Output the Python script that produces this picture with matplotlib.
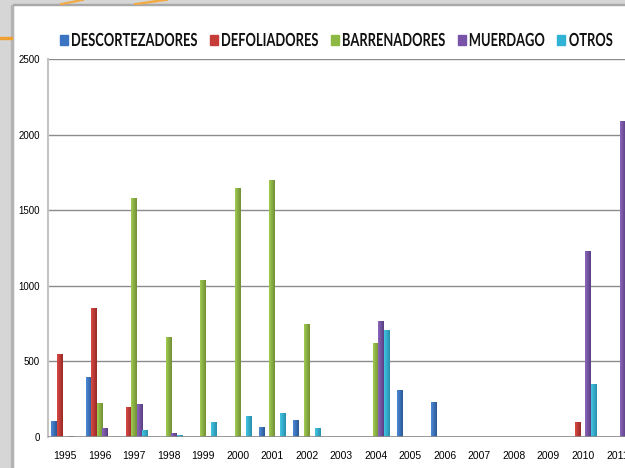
import numpy as np
import matplotlib.pyplot as plt
from matplotlib.patches import Rectangle, PathPatch, Polygon
from matplotlib.colors import LinearSegmentedColormap
from matplotlib.textpath import TextPath
from matplotlib.font_manager import FontProperties
from matplotlib.transforms import Affine2D

# datos
anios = ['1995', '1996', '1997', '1998', '1999', '2000', '2001', '2002', '2003',
         '2004', '2005', '2006', '2007', '2008', '2009', '2010', '2011']
descortezadores = [105, 400, 0, 0, 0, 0, 65, 110, 0, 0, 310, 230, 0, 0, 0, 0, 0]
defoliadores = [550, 850, 200, 0, 0, 0, 0, 0, 0, 0, 0, 0, 0, 0, 0, 100, 0]
barrenadores = [0, 225, 1580, 660, 1040, 1650, 1700, 750, 0, 620, 0, 0, 0, 0, 0, 0, 0]
muerdago = [5, 60, 220, 25, 5, 0, 0, 0, 0, 770, 0, 0, 0, 0, 0, 1230, 2090]
otros = [0, 0, 45, 12, 100, 140, 160, 60, 0, 710, 0, 0, 0, 0, 0, 350, 0]

series = ['DESCORTEZADORES', 'DEFOLIADORES', 'BARRENADORES', 'MUERDAGO', 'OTROS']
valores = [descortezadores, defoliadores, barrenadores, muerdago, otros]
colores = ['#3A74C2', '#C63C38', '#8DB843', '#7853A8', '#30B2D4']
claros = ['#4C8AD6', '#D84A44', '#A0CB50', '#8B66BB', '#44C4E4']
oscuros = ['#2B5896', '#9A2A27', '#728F36', '#5A3F82', '#2790AC']

W, H = 625, 468
fig = plt.figure(figsize=(6.25, 4.68), dpi=100)
fig.patch.set_facecolor('white')
px = Affine2D().scale(1.0 / W, 1.0 / H) + fig.transFigure  # pixeles desde abajo-izquierda

# marco gris de la diapositiva
fig.patches.append(Rectangle((0, 0), 13, H, transform=px, color='#D6D6D6', zorder=0))
fig.patches.append(Rectangle((11, 0), 2, H - 4, transform=px, color='#B4B4B4', zorder=0))
fig.patches.append(Rectangle((0, H - 4), W, 4, transform=px, color='#D6D6D6', zorder=0))
fig.patches.append(Rectangle((13, H - 5), W, 1.2, transform=px, color='#A8A8A8', zorder=0))
fig.patches.append(Rectangle((0, H - 39), 12, 2, transform=px, color='#F0A030', zorder=1))
# trazos naranjas arriba
fig.patches.append(Polygon([(60, H - 4), (64, H - 4), (84, H), (80, H)], transform=px,
                           color='#F2AA45', zorder=1))
fig.patches.append(Polygon([(134, H - 4), (140, H - 4), (168, H), (160, H)], transform=px,
                           color='#F2AA45', zorder=1))

ax = fig.add_axes([48 / W, 31 / H, 577 / W, 378 / H])
x = np.arange(len(anios))
ancho = 0.17
paso = 0.157
gradiente = np.linspace(0, 1, 32).reshape(1, -1)

for k in range(5):
    barras = ax.bar(x + (k - 2) * paso, valores[k], ancho, color=colores[k],
                    zorder=2, linewidth=0)
    cmap = LinearSegmentedColormap.from_list('g%d' % k, [claros[k], oscuros[k]])
    for b in barras:
        if b.get_height() <= 0:
            continue
        im = ax.imshow(gradiente, extent=[b.get_x(), b.get_x() + b.get_width(), 0, b.get_height()],
                       aspect='auto', cmap=cmap, zorder=3, interpolation='bilinear')
        im.set_clip_path(b)

ax.set_xlim(-0.5, 16.22)
ax.set_ylim(0, 2500)
ax.set_yticks([0, 500, 1000, 1500, 2000, 2500])
ax.set_xticks(x)
ax.set_xticklabels(anios)
ax.grid(axis='y', color='#8C8C8C', linewidth=1, zorder=1)
ax.set_axisbelow(True)
for s in ['top', 'right', 'bottom']:
    ax.spines[s].set_visible(False)
ax.spines['left'].set_color('#C4C4C4')
ax.spines['left'].set_linewidth(1.5)
ax.axhline(0, color='#8C8C8C', linewidth=1.2, zorder=4)
ax.tick_params(axis='x', length=0, pad=10, labelsize=7.5)
ax.tick_params(axis='y', length=0, pad=6, labelsize=7)
for t in ax.get_xticklabels() + ax.get_yticklabels():
    t.set_family(['Liberation Sans', 'DejaVu Sans'])

# leyenda con letra estrecha (texto condensado a mano)
fp = FontProperties(family='Lato', weight='bold')
caminos = [TextPath((0, 0), s, size=18, prop=fp) for s in series]
sx = 125.0 / caminos[0].get_extents().width
xcur = 60
base = H - 46
for k in range(5):
    fig.patches.append(Rectangle((xcur, H - 45), 8, 10, transform=px, color=colores[k]))
    xcur += 12
    ext = caminos[k].get_extents()
    tr = Affine2D().translate(-ext.x0, 0).scale(sx, 1).translate(xcur, base) + px
    fig.patches.append(PathPatch(caminos[k], transform=tr, facecolor='#111111', lw=0))
    xcur += ext.width * sx + 13

fig.savefig('out.png', dpi=100)
